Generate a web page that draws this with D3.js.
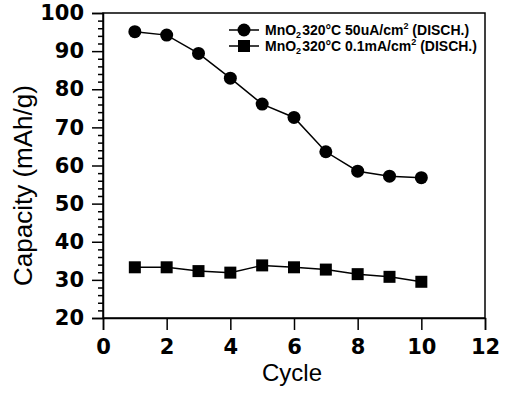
<!DOCTYPE html>
<html><head><meta charset="utf-8">
<script src="https://cdn.jsdelivr.net/npm/d3@7"></script>
<style>body{margin:0;background:#fff}svg{display:block}</style>
</head><body>
<svg id="c" width="508" height="401"></svg>
<script>
const cycles = [1,2,3,4,5,6,7,8,9,10];
const series50uA = [95.1,94.2,89.4,82.9,76.1,72.6,63.6,58.5,57.2,56.8];
const series01mA = [33.3,33.3,32.3,31.9,33.8,33.3,32.7,31.5,30.8,29.5];
const xTicks = [0,2,4,6,8,10,12];
const yTicks = [20,30,40,50,60,70,80,90,100];

const svg = d3.select("#c");
const L=103,R=485,T=13,B=318;
const x = d3.scaleLinear().domain([0,12]).range([L,R]);
const y = d3.scaleLinear().domain([20,100]).range([B,T]);
const font = "'Liberation Sans', Arial, sans-serif";
const tickFont = "'DejaVu Sans', sans-serif";

// frame
svg.append("rect").attr("x",L).attr("y",T).attr("width",R-L).attr("height",B-T)
  .attr("fill","none").attr("stroke","#000").attr("stroke-width",1.5);

// y axis
const ya = svg.append("g").attr("transform",`translate(${L},0)`)
  .call(d3.axisLeft(y).tickValues(yTicks).tickSize(11).tickPadding(8).tickFormat(d3.format("d")));
const yminor = svg.append("g").attr("transform",`translate(${L},0)`)
  .call(d3.axisLeft(y).tickValues(d3.range(20,101,2).filter(v=>v%10)).tickSize(5).tickFormat(""));
yminor.select(".domain").remove();
// x axis
const xa = svg.append("g").attr("transform",`translate(0,${B})`)
  .call(d3.axisBottom(x).tickValues(xTicks).tickSize(12).tickPadding(9));
[ya,xa,yminor].forEach(g=>{
  g.select(".domain").attr("stroke-width",1.5);
  g.selectAll(".tick line").attr("stroke-width",1.5);
  g.selectAll("text").attr("font-family",tickFont).attr("font-size",21).attr("font-weight","bold").attr("fill","#000");
});

// axis labels
svg.append("text").attr("x",(L+R)/2-2).attr("y",381).attr("text-anchor","middle")
  .attr("font-family",font).attr("font-size",24).text("Cycle");
svg.append("text").attr("transform",`translate(32,${(T+B)/2+20}) rotate(-90)`).attr("text-anchor","middle")
  .attr("font-family",font).attr("font-size",26).text("Capacity (mAh/g)");

const line = d3.line().x((d,i)=>x(cycles[i])).y(d=>y(d));
svg.append("path").datum(series50uA).attr("d",line).attr("fill","none").attr("stroke","#000").attr("stroke-width",1.5);
svg.append("path").datum(series01mA).attr("d",line).attr("fill","none").attr("stroke","#000").attr("stroke-width",1.5);
svg.selectAll("circle.m").data(series50uA).join("circle").attr("class","m")
  .attr("cx",(d,i)=>x(cycles[i])).attr("cy",d=>y(d)).attr("r",6.5).attr("fill","#000");
svg.selectAll("rect.m").data(series01mA).join("rect").attr("class","m")
  .attr("x",(d,i)=>x(cycles[i])-6).attr("y",d=>y(d)-6).attr("width",12).attr("height",12).attr("fill","#000");

// legend
const legend = [
  {label:["MnO","2","320°C 50uA/cm","2"," (DISCH.)"], shape:"circle", yy:30},
  {label:["MnO","2","320°C 0.1mA/cm","2"," (DISCH.)"], shape:"square", yy:46}
];
legend.forEach(e=>{
  svg.append("line").attr("x1",229).attr("x2",259).attr("y1",e.yy).attr("y2",e.yy).attr("stroke","#000").attr("stroke-width",1.5);
  if(e.shape==="circle") svg.append("circle").attr("cx",244).attr("cy",e.yy).attr("r",6.5).attr("fill","#000");
  else svg.append("rect").attr("x",238).attr("y",e.yy-6).attr("width",12).attr("height",12).attr("fill","#000");
  const t = svg.append("text").attr("x",265).attr("y",e.yy+5).attr("font-family",font).attr("font-size",14).attr("font-weight","bold");
  t.append("tspan").text(e.label[0]);
  t.append("tspan").attr("font-size",9).attr("dy",3).text(e.label[1]);
  t.append("tspan").attr("dy",-3).attr("dx",1).text(e.label[2]);
  t.append("tspan").attr("font-size",9).attr("dy",-6).text(e.label[3]);
  t.append("tspan").attr("dy",6).text(e.label[4]);
});
</script>
</body></html>
